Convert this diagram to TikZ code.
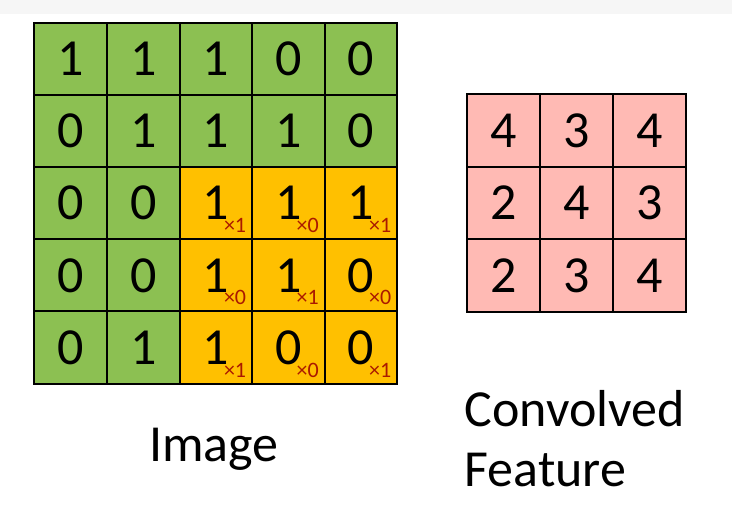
\documentclass[tikz,border=0pt]{standalone}
\usepackage{fontspec}
\setmainfont{Carlito}
\definecolor{imggreen}{RGB}{140,192,82}
\definecolor{kernorange}{RGB}{255,192,0}
\definecolor{featpink}{RGB}{255,186,180}
\definecolor{kernred}{RGB}{170,25,0}
\definecolor{topband}{RGB}{246,246,246}
\tikzset{
  cellbox/.style={draw=black, line width=2pt, minimum width=72.6pt, minimum height=72.3pt,
    inner sep=0pt, outer sep=0pt, font=\fontsize{52}{60}\selectfont, anchor=center},
  greencell/.style={cellbox, fill=imggreen},
  orangecell/.style={cellbox, fill=kernorange},
  pinkcell/.style={cellbox, fill=featpink, minimum width=73pt, minimum height=72.7pt},
  kernw/.style={text=kernred, inner sep=0pt, anchor=base west, font=\fontsize{22}{24}\selectfont},
  caption/.style={inner sep=0pt, font=\fontsize{52}{60}\selectfont}
}
\begin{document}
\begin{tikzpicture}[x=1pt,y=-1pt]
\useasboundingbox (0,0) rectangle (732,517);
\fill[topband] (0,0) rectangle (732,14);
% Image grid 5x5
\def\gx{34.3}\def\gy{22.7}\def\cw{72.6}\def\ch{72.2}
\foreach \r/\row in {1/{1,1,1,0,0},2/{0,1,1,1,0},3/{0,0,1,1,1},4/{0,0,1,1,0},5/{0,1,1,0,0}}{
  \foreach \v [count=\c] in \row {
    \pgfmathsetmacro{\cx}{\gx+(\c-0.5)*\cw}
    \pgfmathsetmacro{\cy}{\gy+(\r-0.5)*\ch}
    \pgfmathtruncatemacro{\isk}{(\r>2 && \c>2) ? 1 : 0}
    \ifnum\isk=1
      \node[orangecell] (img-\r-\c) at (\cx,\cy) {\v};
    \else
      \node[greencell] (img-\r-\c) at (\cx,\cy) {\v};
    \fi
  }
}
% kernel weights
\foreach \r/\row in {3/{1,0,1},4/{0,1,0},5/{1,0,1}}{
  \foreach \w [count=\k] in \row {
    \pgfmathtruncatemacro{\c}{\k+2}
    \node[kernw] (w-\r-\c) at ([xshift=8pt,yshift=-29.5pt]img-\r-\c.center) {×\w};
  }
}
% Convolved feature 3x3
\def\fx{467.2}\def\fy{94.2}\def\fw{73}\def\fh{72.6}
\foreach \r/\row in {1/{4,3,4},2/{2,4,3},3/{2,3,4}}{
  \foreach \v [count=\c] in \row {
    \pgfmathsetmacro{\cx}{\fx+(\c-0.5)*\fw}
    \pgfmathsetmacro{\cy}{\fy+(\r-0.5)*\fh}
    \node[pinkcell] (feat-\r-\c) at (\cx,\cy) {\v};
  }
}
% captions
\node[caption, anchor=base] (imglabel) at (214,461.7) {Image};
\node[caption, anchor=base west] (convlabel) at (464.5,426.7) {Convolved};
\node[caption, anchor=base west] (featlabel) at (464.5,486.7) {Feature};
\end{tikzpicture}
\end{document}
